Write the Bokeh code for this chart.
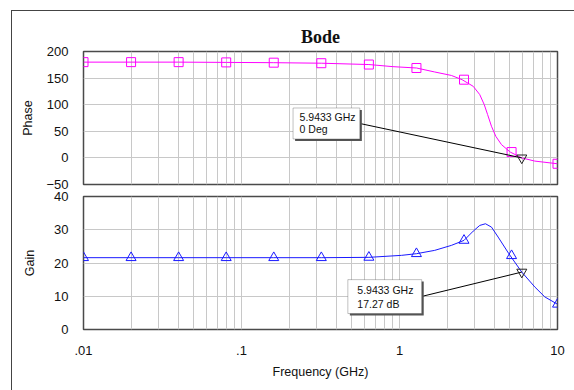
from bokeh.plotting import figure
from bokeh.layouts import column
from bokeh.models import FixedTicker, BoxAnnotation, Label
from bokeh.embed import file_html
from bokeh.resources import INLINE

# ---------------- data ----------------
phase_freq = [0.01, 0.02, 0.04, 0.08, 0.16, 0.32, 0.64, 0.91, 1.28, 1.67, 2.13,
              2.49, 2.93, 3.22, 3.44, 3.61, 3.82, 4.07, 4.42, 5.02, 5.94, 7.18, 10]
phase = [180, 180, 180, 179.5, 179, 178, 175.5, 171.5, 169, 161.5, 155,
         147, 134.5, 119, 100, 81.5, 59.5, 40.5, 25, 11, 0, -6, -11]

gain_freq = [0.01, 0.02, 0.04, 0.08, 0.16, 0.32, 0.64, 1.03, 1.28, 1.67, 2.13,
             2.56, 2.93, 3.22, 3.50, 3.82, 4.21, 4.92, 5.94, 7.18, 8.31, 10]
gain = [21.6, 21.6, 21.6, 21.6, 21.6, 21.6, 21.7, 22.3, 22.8, 23.8, 25.3,
        26.8, 29.6, 31.3, 31.8, 30.8, 27.8, 22.8, 17.27, 12.8, 9.8, 7.6]

marker_freq = [0.01, 0.02, 0.04, 0.08, 0.16, 0.32, 0.64, 1.28, 2.56, 5.12, 10]
phase_markers = [180, 180, 180, 179.5, 179, 178, 175.5, 169, 147, 11, -11]
gain_markers = [21.6, 21.6, 21.6, 21.6, 21.6, 21.6, 21.7, 22.8, 26.8, 22.2, 7.6]

cursor_freq = 5.9433
cursor_phase = 0
cursor_gain = 17.27
phase_text = ["5.9433 GHz", "0 Deg"]
gain_text = ["5.9433 GHz", "17.27 dB"]

x_ticks = [0.01, 0.1, 1, 10]
x_tick_labels = [".01", ".1", "1", "10"]
phase_ticks = [-50, 0, 50, 100, 150, 200]
gain_ticks = [0, 10, 20, 30, 40]

# ---------------- styling ----------------
GRID = "#c8c8c8"
FRAME = "#4a4a4a"
FONT = "Liberation Sans"
OVERLAP = 10
minor = [d * m for d in [0.01, 0.1, 1] for m in range(2, 10)]


def style(p, yticks, label, label_standoff):
    p.outline_line_color = FRAME
    p.outline_line_width = 1.5
    p.background_fill_color = "white"
    p.xgrid.ticker = FixedTicker(ticks=x_ticks, minor_ticks=minor)
    p.xgrid.grid_line_color = GRID
    p.xgrid.minor_grid_line_color = GRID
    p.ygrid.grid_line_color = GRID
    p.yaxis.ticker = FixedTicker(ticks=yticks)
    p.yaxis.axis_label = label
    p.yaxis.axis_label_text_font = FONT
    p.yaxis.axis_label_text_font_style = "normal"
    p.yaxis.axis_label_text_font_size = "12.5px"
    p.yaxis.axis_label_text_color = "#111111"
    p.yaxis.axis_label_standoff = label_standoff
    p.yaxis.major_label_text_font = FONT
    p.yaxis.major_label_text_font_size = "13px"
    p.yaxis.major_label_text_color = "#111111"
    p.yaxis.major_label_standoff = 15
    for ax in (p.xaxis[0], p.yaxis[0]):
        ax.axis_line_color = None
        ax.major_tick_line_color = None
        ax.minor_tick_line_color = None
        ax.major_tick_out = 0
        ax.major_tick_in = 0
        ax.minor_tick_out = 0
        ax.minor_tick_in = 0


def callout(p, left, right, top, bottom, dx, dy, tx, ty1, ty2, texts):
    p.add_layout(BoxAnnotation(left=left * dx, right=right * dx, top=top - dy,
                               bottom=bottom - dy, fill_color="#555555",
                               fill_alpha=1, line_color=None))
    p.add_layout(BoxAnnotation(left=left, right=right, top=top, bottom=bottom,
                               fill_color="white", fill_alpha=1,
                               line_color="#333333", line_width=1))
    for t, y in zip(texts, (ty1, ty2)):
        p.add_layout(Label(x=tx, y=y, text=t, text_font=FONT,
                           text_font_size="10.5px", text_baseline="middle",
                           text_color="#111111"))


# ---------------- Phase panel ----------------
p1 = figure(width=562, height=179 + OVERLAP, x_axis_type="log", x_range=(0.01, 10),
            y_range=(-50, 200), output_backend="svg", toolbar_location=None,
            title="Bode", min_border_left=71, min_border_right=17,
            min_border_top=40, min_border_bottom=6 + OVERLAP)
style(p1, phase_ticks, "Phase", 8)
p1.border_fill_color = "white"
p1.xaxis.visible = False
p1.title.align = "center"
p1.title.text_font = "Liberation Serif"
p1.title.text_font_size = "18px"
p1.title.text_font_style = "bold"
p1.title.text_color = "#111111"
p1.title.standoff = 9

p1.line(phase_freq, phase, color="#ff00ff", line_width=1)
p1.scatter(marker_freq, phase_markers, marker="square", size=9,
           fill_color=None, line_color="#ff00ff", line_width=1)
p1.segment(x0=[0.565], y0=[64.5], x1=[cursor_freq], y1=[cursor_phase],
           line_color="black", line_width=1)
p1.scatter([cursor_freq], [cursor_phase], marker="inverted_triangle", size=10,
           fill_color=None, line_color="#222222", line_width=1)
callout(p1, 0.212, 0.561, 93.8, 35.6, 1.03, 3.8, 0.233, 77.3, 53.8, phase_text)

# ---------------- Gain panel ----------------
p2 = figure(width=562, height=200 + OVERLAP, x_axis_type="log", x_range=(0.01, 10),
            y_range=(0, 40), output_backend="svg", toolbar_location=None,
            min_border_left=71, min_border_right=17,
            min_border_top=6 + OVERLAP, min_border_bottom=61,
            margin=(-2 * OVERLAP, 0, 0, 0))
style(p2, gain_ticks, "Gain", 14)
p2.border_fill_color = None
p2.xaxis.ticker = FixedTicker(ticks=x_ticks, minor_ticks=minor)
p2.xaxis.major_label_overrides = dict(zip(x_ticks, x_tick_labels))
p2.xaxis.major_label_text_font = FONT
p2.xaxis.major_label_text_font_size = "13px"
p2.xaxis.major_label_text_color = "#111111"
p2.xaxis.major_label_standoff = 16
p2.xaxis.axis_label = "Frequency (GHz)"
p2.xaxis.axis_label_text_font = FONT
p2.xaxis.axis_label_text_font_style = "normal"
p2.xaxis.axis_label_text_font_size = "12.5px"
p2.xaxis.axis_label_text_color = "#111111"
p2.xaxis.axis_label_standoff = 7

p2.line(gain_freq, gain, color="#1a1aff", line_width=1)
p2.scatter(marker_freq, gain_markers, marker="triangle", size=10,
           fill_color=None, line_color="#1a1aff", line_width=1)
p2.segment(x0=[1.398], y0=[10.0], x1=[cursor_freq], y1=[cursor_gain],
           line_color="black", line_width=1)
p2.scatter([cursor_freq], [cursor_gain], marker="inverted_triangle", size=10,
           fill_color=None, line_color="#222222", line_width=1)
callout(p2, 0.471, 1.382, 15.0, 4.8, 1.03, 0.6, 0.541, 12.0, 7.8, gain_text)

layout = column(p1, p2, margin=(10, 0, 0, 11),
                styles={"border-left": "1px solid #444444",
                        "border-top": "1px solid #444444"})

open("out.html", "w").write(file_html(layout, INLINE))
